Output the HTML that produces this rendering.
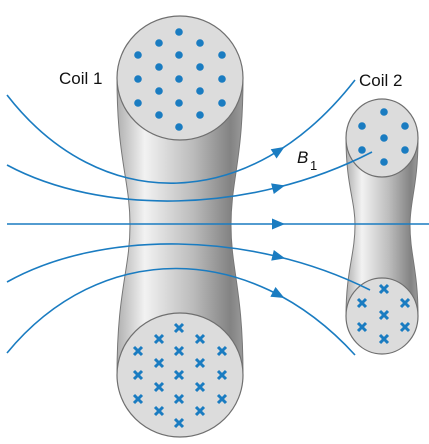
<!DOCTYPE html>
<html><head><meta charset="utf-8"><style>
html,body{margin:0;padding:0;background:#fff;}
svg{display:block;}
text{font-family:"Liberation Sans",sans-serif;fill:#111;}
</style></head><body>
<svg id="s" width="429" height="444" viewBox="0 0 429 444">
<defs>
<linearGradient id="g1" x1="0" x2="1" y1="0" y2="0">
<stop offset="0" stop-color="#b0b0b0"/><stop offset="0.22" stop-color="#f2f2f2"/><stop offset="0.6" stop-color="#bcbcbc"/><stop offset="0.9" stop-color="#838383"/><stop offset="1" stop-color="#9a9a9a"/>
</linearGradient>
</defs>
<g>
<path d="M117,78 C117,160 130,180 130,225 C130,270 117,290 117,375 L243,375 C243,290 231,270 231,225 C231,180 243,160 243,78 Z" fill="url(#g1)" stroke="#777" stroke-width="1"/>
<ellipse cx="180" cy="78" rx="63" ry="62" fill="#dcdcdc" stroke="#6f6f6f" stroke-width="1.2"/>
<ellipse cx="180" cy="375" rx="63" ry="62" fill="#dcdcdc" stroke="#6f6f6f" stroke-width="1.2"/>
<g id="c1dots"></g>
<g id="c1x"></g>
</g>
<g>
<path d="M346,138 C346,185 355,200 355,225 C355,255 346,270 346,316 L418,316 C418,270 410,255 410,225 C410,200 418,185 418,138 Z" fill="url(#g1)" stroke="#777" stroke-width="1"/>
<ellipse cx="382" cy="138" rx="36" ry="39" fill="#dcdcdc" stroke="#6f6f6f" stroke-width="1.2"/>
<ellipse cx="382" cy="316" rx="36" ry="38" fill="#dcdcdc" stroke="#6f6f6f" stroke-width="1.2"/>
<g id="c2dots"></g>
<g id="c2x"></g>
</g>
<g id="lines" fill="none" stroke="#1a7cc1" stroke-width="1.6">
<path d="M7,95 C100,215 250,215 355,80"/>
<path d="M7,165 C100,215 250,215 372,152"/>
<path d="M7,224 L429,224"/>
<path d="M7,282 C100,230 250,230 370,290"/>
<path d="M7,353 C100,240 250,240 355,355"/>
</g>
<g id="arrows" fill="#1a7cc1"></g>
<text x="59" y="84" font-size="17">Coil 1</text>
<text x="359" y="86" font-size="17">Coil 2</text>
<text x="297" y="163" font-size="17" font-style="italic">B</text>
<text x="310" y="170" font-size="13">1</text>
</svg>
<script>
var NS='http://www.w3.org/2000/svg';
function dot(g,x,y){var c=document.createElementNS(NS,'circle');c.setAttribute('cx',x);c.setAttribute('cy',y);c.setAttribute('r',3.8);c.setAttribute('fill','#1a7cc1');


g.appendChild(c);}
function cross(g,x,y){var p=document.createElementNS(NS,'path');var d=4;p.setAttribute('d','M'+(x-d)+','+(y-d)+'L'+(x+d)+','+(y+d)+'M'+(x+d)+','+(y-d)+'L'+(x-d)+','+(y+d));p.setAttribute('stroke','#1a7cc1');p.setAttribute('stroke-width','3');


g.appendChild(p);}
var big=[[179,-47],[179,-24],[179,0],[179,24],[179,48],[159,-36],[159,-12],[159,12],[159,36],[200,-36],[200,-12],[200,12],[200,36],[138,-24],[138,0],[138,24],[222,-24],[222,0],[222,24]];
big.forEach(function(p){dot(document.getElementById('c1dots'),p[0],79+p[1]);cross(document.getElementById('c1x'),p[0],375+p[1]);});
var sm=[[384,-26],[362,-12],[405,-12],[384,0],[362,12],[405,12],[384,24]];
sm.forEach(function(p){dot(document.getElementById('c2dots'),p[0],138+p[1]);cross(document.getElementById('c2x'),p[0],315+p[1]);});
var ag=document.getElementById('arrows');
document.querySelectorAll('#lines path').forEach(function(pa){
 var L=pa.getTotalLength(),s=0;for(var i=0;i<=L;i+=0.5){if(pa.getPointAtLength(i).x>=280){s=i;break;}}
 var a=pa.getPointAtLength(s),b=pa.getPointAtLength(s-2);var ang=Math.atan2(a.y-b.y,a.x-b.x)*180/Math.PI;
 var t=document.createElementNS(NS,'path');t.setAttribute('d','M5,0 L-8,-5.5 L-8,5.5 Z');t.setAttribute('transform','translate('+a.x+','+a.y+') rotate('+ang+')');
 
 
 ag.appendChild(t);});
</script>
</body></html>
